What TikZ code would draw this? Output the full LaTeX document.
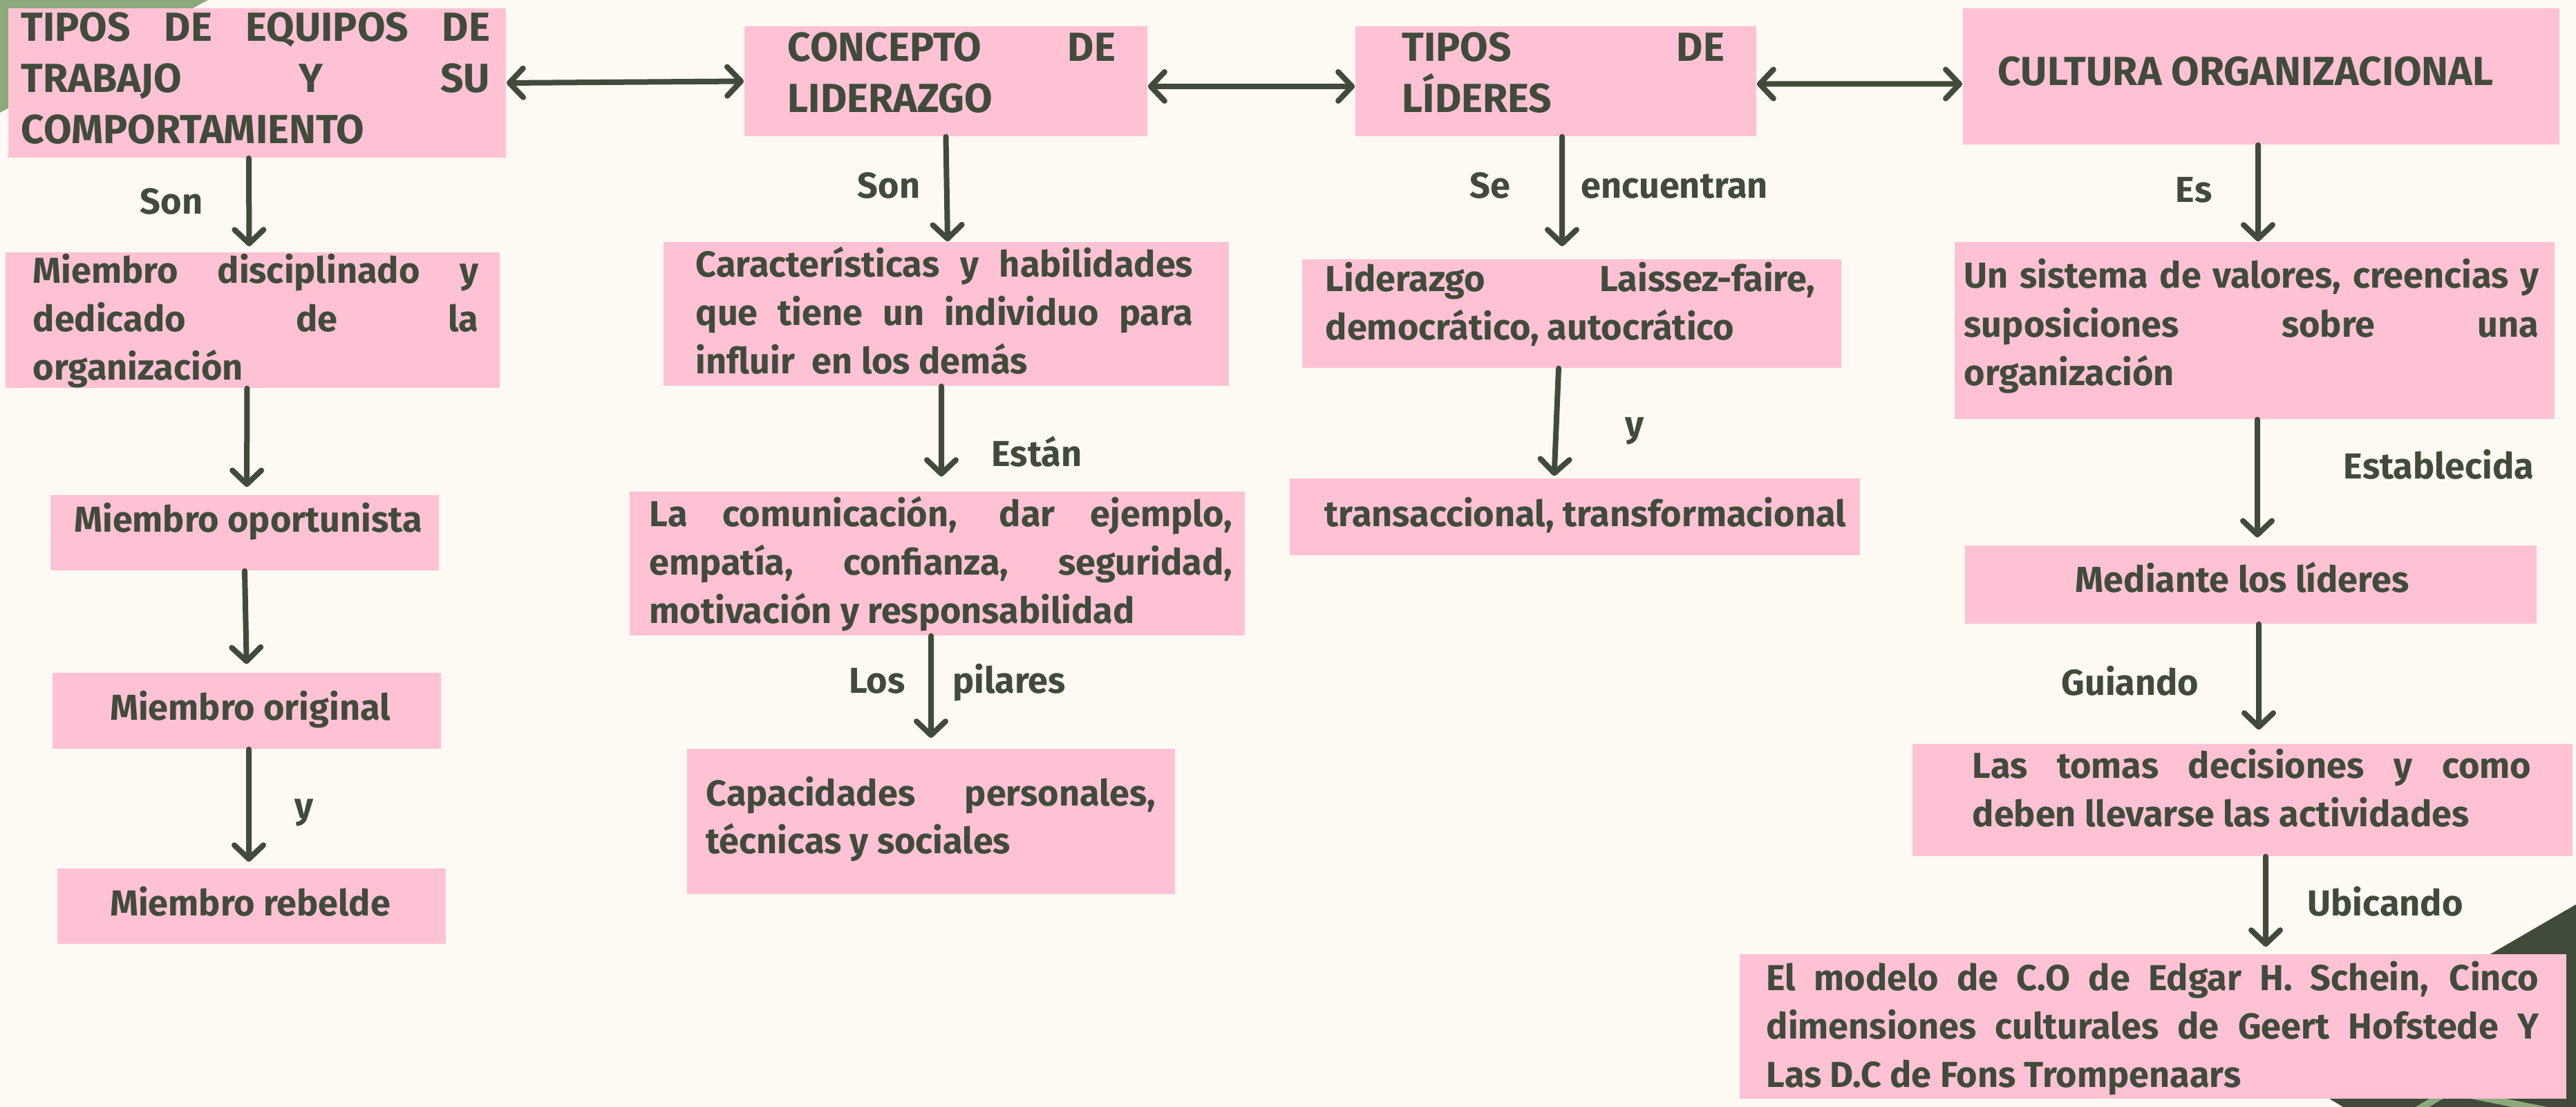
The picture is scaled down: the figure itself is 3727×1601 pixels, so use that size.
\documentclass[tikz,border=0pt]{standalone}
\usepackage{fontspec}
\setmainfont{Fira Sans}
\usetikzlibrary{arrows.meta}
\definecolor{bgc}{HTML}{FEF9F3}
\definecolor{pinkc}{HTML}{FFC2D4}
\definecolor{inkc}{HTML}{414B3B}
\definecolor{greenc}{HTML}{8CA97C}
\newcommand\tjus[5]{\node[txt,anchor=base west] (#1) at (#2,#3) {\makebox[#4cm][s]{#5}};}
\newcommand\tlft[4]{\node[txt,anchor=base west] (#1) at (#2,#3) {#4};}
\newcommand\tctr[4]{\node[txt,anchor=base] (#1) at (#2,#3) {#4};}
\newcommand\hjus[5]{\node[hdr,anchor=base west] (#1) at (#2,#3) {\makebox[#4cm][s]{#5}};}
\newcommand\hlft[4]{\node[hdr,anchor=base west] (#1) at (#2,#3) {#4};}
\begin{document}
\begin{tikzpicture}[x=0.01cm,y=-0.01cm,
 pbox/.style={fill=pinkc, draw=none, inner sep=0pt, rectangle},
 txt/.style={inner sep=0pt, text=inkc, font=\bfseries\fontsize{14.85}{18}\selectfont},
 hdr/.style={inner sep=0pt, text=inkc, font=\bfseries\fontsize{16.7}{20}\selectfont},
 tipb/.tip={Straight Barb[length=0.2cm,width=0.42cm,round]},
 arr/.style={draw=inkc, line width=0.08cm, line cap=round, -tipb},
 darr/.style={draw=inkc, line width=0.08cm, line cap=round, tipb-tipb}
]
% background
\fill[bgc] (0,0) rectangle (3727,1601);
\useasboundingbox (0,0) rectangle (3727,1601);
\fill[greenc] (0,0) -- (301,0) -- (0,163) -- cycle;
\begin{scope}
\fill[inkc] (3308,1551) -- (3727,1308) -- (3727,1601) -- (3390,1601) -- cycle;
\clip (3308,1551) -- (3727,1308) -- (3727,1601) -- (3390,1601) -- cycle;
\draw[greenc, line width=0.1cm] (3560,1568) -- (3486,1612);
\draw[greenc, line width=0.1cm] (3540,1577) -- (3720,1613);
\end{scope}

% boxes
\node[pbox, minimum width=7.20cm, minimum height=2.16cm] (a)  at (372,120) {};
\node[pbox, minimum width=7.15cm, minimum height=1.96cm] (a1) at (365.5,463) {};
\node[pbox, minimum width=5.62cm, minimum height=1.09cm] (a2) at (354,770.5) {};
\node[pbox, minimum width=5.62cm, minimum height=1.10cm] (a3) at (357,1028) {};
\node[pbox, minimum width=5.62cm, minimum height=1.09cm] (a4) at (364,1310.5) {};
\node[pbox, minimum width=5.83cm, minimum height=1.59cm] (b)  at (1368.5,117.5) {};
\node[pbox, minimum width=8.18cm, minimum height=2.08cm] (b1) at (1369,454) {};
\node[pbox, minimum width=8.90cm, minimum height=2.08cm] (b2) at (1356,815) {};
\node[pbox, minimum width=7.06cm, minimum height=2.10cm] (b3) at (1347,1188) {};
\node[pbox, minimum width=5.80cm, minimum height=1.59cm] (c)  at (2251,117.5) {};
\node[pbox, minimum width=7.80cm, minimum height=1.57cm] (c1) at (2274,453.5) {};
\node[pbox, minimum width=8.25cm, minimum height=1.11cm] (c2) at (2278.5,747.5) {};
\node[pbox, minimum width=8.63cm, minimum height=1.97cm] (d)  at (3271.5,110.5) {};
\node[pbox, minimum width=8.68cm, minimum height=2.56cm] (d1) at (3262,478) {};
\node[pbox, minimum width=8.27cm, minimum height=1.13cm] (d2) at (3256.5,845.5) {};
\node[pbox, minimum width=9.55cm, minimum height=1.62cm] (d3) at (3244.5,1157) {};
\node[pbox, minimum width=11.96cm, minimum height=2.09cm] (d4) at (3115,1484.5) {};

% texts
\hjus{at1}{30}{60}{6.78}{TIPOS DE EQUIPOS DE}
\hjus{at2}{30}{134}{6.78}{TRABAJO Y SU}
\hlft{at3}{30}{208}{COMPORTAMIENTO}
\hjus{bt1}{1139}{89}{4.74}{CONCEPTO DE}
\hlft{bt2}{1139}{163}{LIDERAZGO}
\hjus{ct1}{2028}{89}{4.66}{TIPOS DE}
\hlft{ct2}{2028}{163}{LÍDERES}
\hlft{dt1}{2890}{124}{CULTURA ORGANIZACIONAL}

\tjus{a1t1}{47}{410}{6.44}{Miembro disciplinado y}
\tjus{a1t2}{47}{480}{6.44}{dedicado de la}
\tlft{a1t3}{47}{550}{organización}
\tctr{a2t}{359}{770}{Miembro oportunista}
\tctr{a3t}{362}{1041}{Miembro original}
\tctr{a4t}{362}{1324}{Miembro rebelde}

\tjus{b1t1}{1006}{401}{7.19}{Características y habilidades}
\tjus{b1t2}{1006}{471}{7.19}{que tiene un individuo para}
\tlft{b1t3}{1006}{541}{influir \ en los demás}
\tjus{b2t1}{939}{762}{8.43}{La comunicación, dar ejemplo,}
\tjus{b2t2}{939}{832}{8.43}{empatía, confianza, seguridad,}
\tlft{b2t3}{939}{902}{motivación y responsabilidad}
\tjus{b3t1}{1021}{1165}{6.50}{Capacidades personales,}
\tlft{b3t2}{1021}{1234}{técnicas y sociales}

\tjus{c1t1}{1917}{422}{7.08}{Liderazgo Laissez-faire,}
\tlft{c1t2}{1917}{492}{democrático, autocrático}
\tlft{c2t}{1916}{762}{transaccional, transformacional}

\tjus{d1t1}{2841}{417}{8.31}{Un sistema de valores, creencias y}
\tjus{d1t2}{2841}{488}{8.31}{suposiciones sobre una}
\tlft{d1t3}{2841}{558}{organización}
\tctr{d2t}{3244}{857}{Mediante los líderes}
\tjus{d3t1}{2853}{1126}{8.08}{Las tomas decisiones y como}
\tlft{d3t2}{2853}{1195}{deben llevarse las actividades}
\tjus{d4t1}{2555}{1432}{11.17}{El modelo de C.O de Edgar H. Schein, Cinco}
\tjus{d4t2}{2555}{1502}{11.17}{dimensiones culturales de Geert Hofstede Y}
\tlft{d4t3}{2555}{1572}{Las D.C de Fons Trompenaars}

% labels
\tctr{l1}{248}{310}{Son}
\tctr{l2}{440}{1183}{y}
\tctr{l3}{1286}{287}{Son}
\tctr{l4}{1500}{675}{Están}
\tctr{l5}{1269}{1002}{Los}
\tlft{l6}{1378}{1002}{pilares}
\tctr{l7}{2156}{287}{Se}
\tlft{l8}{2287}{287}{encuentran}
\tctr{l9}{2365}{632}{y}
\tctr{l10}{3174}{293}{Es}
\tlft{l11}{3390}{693}{Establecida}
\tctr{l12}{3082}{1005}{Guiando}
\tlft{l13}{3338}{1324}{Ubicando}

% horizontal double arrows
\draw[darr] (a.east) -- (b.west);
\draw[darr] ([yshift=-0.075cm]b.east) -- ([yshift=-0.075cm]c.west);
\draw[darr] ([yshift=-0.04cm]c.east) -- ([yshift=-0.11cm]d.west);

% vertical arrows
\draw[arr, shorten >=0.08cm] ([xshift=-0.12cm]a.south) -- ([xshift=-0.05cm]a1.north);
\draw[arr, shorten >=0.11cm] ([xshift=-0.08cm]a1.south) -- ([xshift=0.03cm]a2.north);
\draw[arr, shorten >=0.12cm] (a2.south) -- (a3.north);
\draw[arr, shorten >=0.09cm] ([xshift=0.03cm]a3.south) -- ([xshift=-0.04cm]a4.north);

\draw[arr] (b.south) -- ([xshift=0.02cm]b1.north);
\draw[arr, shorten >=0.21cm] ([xshift=-0.07cm]b1.south) -- ([xshift=0.06cm]b2.north);
\draw[arr, shorten >=0.15cm] ([xshift=-0.09cm]b2.south) -- (b3.north);

\draw[arr, shorten >=0.18cm] ([xshift=0.09cm]c.south) -- ([xshift=-0.14cm]c1.north);
\draw[arr, shorten >=0.03cm] ([xshift=-0.19cm]c1.south) -- ([xshift=-0.30cm]c2.north);

\draw[arr] ([xshift=-0.045cm]d.south) -- ([xshift=0.05cm]d1.north);
\draw[arr, shorten >=0.11cm] ([xshift=0.04cm]d1.south) -- ([xshift=0.095cm]d2.north);
\draw[arr, shorten >=0.20cm] ([xshift=0.115cm]d2.south) -- ([xshift=0.235cm]d3.north);
\draw[arr, shorten >=0.10cm] ([xshift=0.335cm]d3.south) -- ([xshift=1.63cm]d4.north);
\end{tikzpicture}
\end{document}
